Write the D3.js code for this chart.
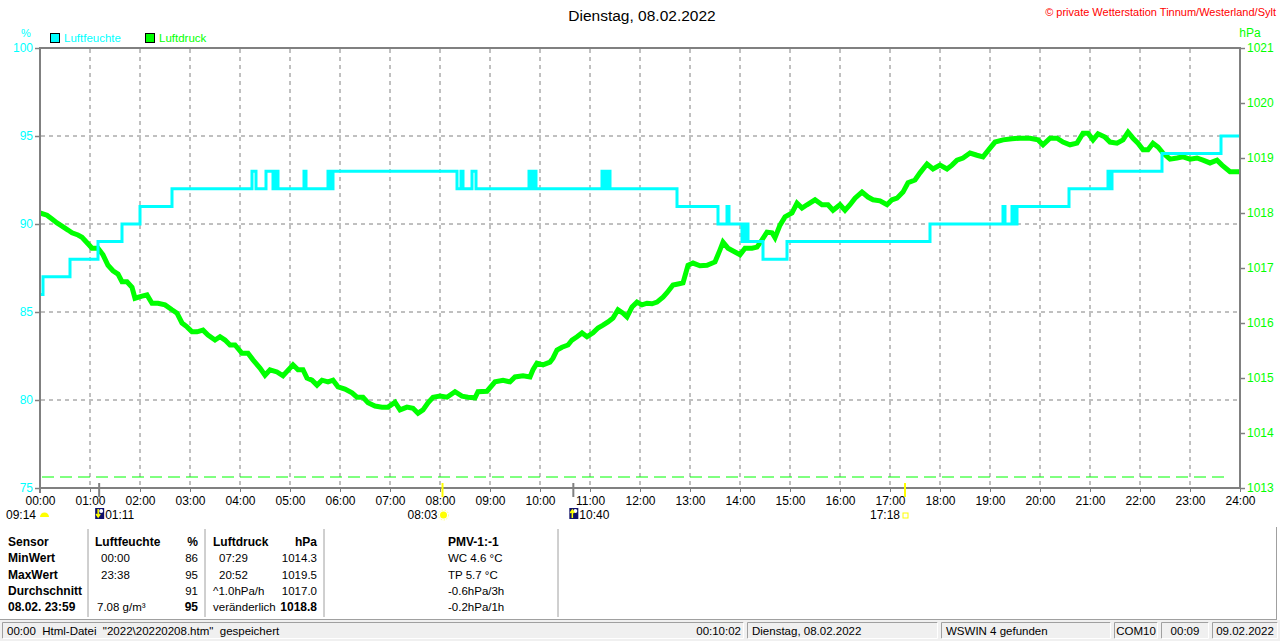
<!DOCTYPE html>
<html><head><meta charset="utf-8">
<script src="https://cdn.jsdelivr.net/npm/d3@7"></script>
<style>
html,body{margin:0;padding:0;background:#fff;}
svg{display:block;font-family:"Liberation Sans",Arial,sans-serif;}
text{white-space:pre;}
</style></head>
<body>
<svg id="c" width="1280" height="641"></svg>
<script>
// ---------- DATA ----------
const title = "Dienstag, 08.02.2022";
const copyright = "© private Wetterstation Tinnum/Westerland/Sylt";
const hourTicks = d3.range(0, 25);
const humTicks = [75, 80, 85, 90, 95, 100];
const presTicks = [1013, 1014, 1015, 1016, 1017, 1018, 1019, 1020, 1021];
const refPressure = 1013.2;

// Luftfeuchte (%), step series: time in hours, value
const humTimes = [0.00,0.06,0.60,1.16,1.64,2.00,2.64,4.24,4.32,4.52,4.66,4.72,4.76,5.28,5.32,5.76,5.82,5.86,
  8.34,8.42,8.46,8.64,8.72,9.78,9.82,9.86,9.92,11.24,11.30,11.34,11.40,12.74,13.56,13.74,13.78,
  14.04,14.08,14.10,14.14,14.16,14.46,14.94,17.80,19.26,19.30,19.44,19.48,19.54,20.58,21.36,21.40,21.44,22.44,23.62,24.00];
const humValues = [86,87,88,89,90,91,92,93,92,93,92,93,92,93,92,93,92,93,
  92,93,92,93,92,93,92,93,92,93,92,93,92,91,90,91,90,
  89,90,89,90,89,88,89,90,91,90,91,90,91,92,93,92,93,94,95,95];

// Luftdruck (hPa)
const presTimes = [0.00,0.14,0.24,0.34,0.44,0.56,0.64,0.76,0.84,0.96,1.04,1.16,1.26,1.36,1.46,1.56,1.64,1.74,1.84,1.90,
  2.04,2.14,2.24,2.36,2.50,2.64,2.74,2.84,2.94,3.04,3.14,3.26,3.36,3.50,3.60,3.70,3.80,3.90,
  4.04,4.16,4.26,4.40,4.50,4.60,4.74,4.86,5.00,5.06,5.16,5.26,5.34,5.44,5.54,5.64,5.76,5.86,5.96,
  6.10,6.24,6.34,6.46,6.56,6.70,6.84,6.96,7.10,7.20,7.34,7.46,7.56,7.66,7.76,7.86,
  8.00,8.14,8.30,8.44,8.56,8.70,8.76,8.94,9.10,9.26,9.40,9.50,9.66,9.80,9.86,9.94,
  10.06,10.20,10.26,10.34,10.44,10.56,10.64,10.74,10.84,10.94,11.06,11.16,11.26,11.36,11.46,11.56,11.66,11.74,11.84,11.94,
  12.04,12.14,12.24,12.34,12.46,12.54,12.66,12.76,12.86,12.96,13.06,13.20,13.34,13.50,13.60,13.66,13.76,13.90,
  14.00,14.10,14.24,14.34,14.44,14.54,14.64,14.70,14.80,14.90,15.04,15.14,15.24,15.34,15.50,15.64,15.76,15.86,
  16.00,16.10,16.20,16.30,16.44,16.56,16.66,16.80,16.94,17.04,17.14,17.26,17.36,17.50,17.60,17.74,17.86,
  18.00,18.14,18.24,18.34,18.46,18.60,18.74,18.86,19.00,19.10,19.26,19.44,19.60,19.80,19.96,
  20.06,20.20,20.34,20.46,20.60,20.74,20.86,20.96,21.06,21.16,21.30,21.40,21.54,21.66,21.76,21.86,21.96,
  22.06,22.16,22.26,22.36,22.46,22.60,22.74,22.86,23.00,23.14,23.26,23.40,23.54,23.64,23.80,23.94,24.00];
const presValues = [1018.00,1017.96,1017.89,1017.82,1017.76,1017.69,1017.64,1017.60,1017.56,1017.44,1017.36,1017.36,1017.24,1017.05,1016.95,1016.89,1016.75,1016.75,1016.65,1016.45,
  1016.49,1016.51,1016.36,1016.36,1016.33,1016.24,1016.18,1016.00,1015.93,1015.84,1015.84,1015.87,1015.78,1015.69,1015.75,1015.69,1015.60,1015.60,
  1015.45,1015.45,1015.33,1015.18,1015.05,1015.15,1015.11,1015.04,1015.18,1015.24,1015.15,1015.15,1015.00,1014.96,1014.87,1014.96,1014.93,1014.96,1014.84,
  1014.80,1014.73,1014.65,1014.65,1014.55,1014.49,1014.47,1014.47,1014.56,1014.42,1014.47,1014.45,1014.36,1014.42,1014.55,1014.65,
  1014.67,1014.65,1014.75,1014.67,1014.65,1014.64,1014.75,1014.76,1014.93,1014.96,1014.93,1015.02,1015.04,1015.02,1015.15,1015.27,
  1015.24,1015.29,1015.36,1015.51,1015.56,1015.60,1015.69,1015.75,1015.82,1015.75,1015.82,1015.91,1015.96,1016.02,1016.09,1016.24,1016.18,1016.11,1016.29,1016.38,
  1016.33,1016.36,1016.35,1016.38,1016.47,1016.55,1016.69,1016.71,1016.73,1017.05,1017.09,1017.04,1017.05,1017.11,1017.33,1017.47,1017.36,1017.29,
  1017.24,1017.36,1017.36,1017.38,1017.51,1017.65,1017.64,1017.55,1017.78,1017.93,1018.00,1018.18,1018.09,1018.15,1018.24,1018.15,1018.15,1018.05,
  1018.15,1018.05,1018.15,1018.27,1018.38,1018.29,1018.24,1018.22,1018.15,1018.24,1018.27,1018.38,1018.55,1018.60,1018.73,1018.89,1018.80,
  1018.87,1018.80,1018.87,1018.96,1019.00,1019.09,1019.05,1019.02,1019.18,1019.29,1019.33,1019.35,1019.36,1019.36,1019.33,
  1019.24,1019.36,1019.36,1019.29,1019.24,1019.27,1019.45,1019.45,1019.33,1019.44,1019.38,1019.29,1019.27,1019.33,1019.47,1019.36,1019.27,
  1019.15,1019.15,1019.27,1019.20,1019.09,1018.98,1019.00,1019.02,1018.98,1019.00,1018.96,1018.91,1018.96,1018.87,1018.75,1018.75,1018.75];

// Sun / moon events (hours, label)
const sunEvents = [{t: 8 + 3/60, label: "08:03", kind: "sunrise"}, {t: 17 + 18/60, label: "17:18", kind: "sunset"}];
const moonEvents = [{t: 1 + 11/60, label: "01:11", kind: "moonset"}, {t: 10 + 40/60, label: "10:40", kind: "moonrise"}];
const prevEvent = {label: "09:14"};

// Table
const tableRows = [
  ["Sensor", "Luftfeuchte", "%", "Luftdruck", "hPa", "PMV-1:-1"],
  ["MinWert", "00:00", "86", "07:29", "1014.3", "WC 4.6 °C"],
  ["MaxWert", "23:38", "95", "20:52", "1019.5", "TP 5.7 °C"],
  ["Durchschnitt", "", "91", "^1.0hPa/h", "1017.0", "-0.6hPa/3h"],
  ["08.02. 23:59", "7.08 g/m³", "95", "veränderlich", "1018.8", "-0.2hPa/1h"]
];
const statusPanels = ["00:00  Html-Datei  \"2022\\20220208.htm\"  gespeichert", "Dienstag, 08.02.2022", "WSWIN 4 gefunden", "COM10", "00:09", "09.02.2022"];
const statusRightText = "00:10:02";

// ---------- DRAW ----------
const svg = d3.select("#c");
const CYAN = "#00ffff", GREEN = "#00ff00", GRAY = "#808080";
const x = d3.scaleLinear().domain([0, 24]).range([40, 1240]);
const yH = d3.scaleLinear().domain([75, 100]).range([488, 48]);
const yP = d3.scaleLinear().domain([1013, 1021]).range([488, 48]);

// Title and copyright
svg.append("text").attr("x", 642).attr("y", 21).attr("text-anchor", "middle")
  .attr("font-size", 15.5).attr("fill", "#000").text(title);
svg.append("text").attr("x", 1276).attr("y", 16).attr("text-anchor", "end")
  .attr("font-size", 11).attr("fill", "#ff0000").text(copyright);

// Units
svg.append("text").attr("x", 26).attr("y", 37).attr("text-anchor", "middle").attr("font-size", 11).attr("fill", CYAN).text("%");
svg.append("text").attr("x", 1250).attr("y", 37).attr("text-anchor", "middle").attr("font-size", 12).attr("fill", GREEN).text("hPa");

// Legend
const legend = [{name: "Luftfeuchte", color: CYAN, x: 50}, {name: "Luftdruck", color: GREEN, x: 145}];
legend.forEach(l => {
  svg.append("rect").attr("x", l.x + 0.5).attr("y", 33.5).attr("width", 9).attr("height", 9)
    .attr("fill", l.color).attr("stroke", "#000").attr("stroke-width", 1);
  svg.append("text").attr("x", l.x + 14).attr("y", 42).attr("font-size", 11.5).attr("fill", l.color).text(l.name);
});

// Grid
const grid = svg.append("g");
grid.selectAll("line.v").data(hourTicks.slice(1, 24)).join("line")
  .attr("x1", d => x(d)).attr("x2", d => x(d)).attr("y1", 49).attr("y2", 488)
  .attr("stroke", GRAY).attr("stroke-width", 1).attr("stroke-dasharray", "4,4");
grid.selectAll("line.h").data(humTicks.slice(1, 5)).join("line")
  .attr("x1", 41).attr("x2", 1240).attr("y1", d => yH(d)).attr("y2", d => yH(d))
  .attr("stroke", GRAY).attr("stroke-width", 1).attr("stroke-dasharray", "4,4");

// reference pressure dashed line
svg.append("line").attr("x1", 42).attr("x2", 1230).attr("y1", yP(refPressure)).attr("y2", yP(refPressure))
  .attr("stroke", GREEN).attr("stroke-width", 1).attr("stroke-dasharray", "12,6");

// Pressure line
const presData = presTimes.map((t, i) => [t, presValues[i]]);
svg.append("path").datum(presData)
  .attr("d", d3.line().x(d => x(d[0])).y(d => yP(d[1])))
  .attr("fill", "none").attr("stroke", GREEN).attr("stroke-width", 5).attr("stroke-linejoin", "miter");

// Humidity line
const humData = humTimes.map((t, i) => [t, humValues[i]]);
svg.append("path").datum(humData)
  .attr("d", d3.line().curve(d3.curveStepAfter).x(d => x(d[0])).y(d => yH(d[1])))
  .attr("fill", "none").attr("stroke", CYAN).attr("stroke-width", 3);

// Frame
const frame = svg.append("g").attr("stroke", GRAY).attr("stroke-width", 2);
frame.append("line").attr("x1", 40).attr("x2", 1241).attr("y1", 48).attr("y2", 48);
frame.append("line").attr("x1", 40).attr("x2", 1241).attr("y1", 488).attr("y2", 488);
frame.append("line").attr("x1", 40).attr("x2", 40).attr("y1", 47).attr("y2", 493);
frame.append("line").attr("x1", 1240).attr("x2", 1240).attr("y1", 47).attr("y2", 489);

// Left axis (humidity)
const axL = svg.append("g").attr("transform", "translate(40,0)")
  .call(d3.axisLeft(yH).tickValues(humTicks).tickSize(5).tickSizeOuter(0).tickPadding(2));
axL.select(".domain").remove();
axL.selectAll("line").attr("stroke", GRAY).attr("stroke-width", 1.5);
axL.selectAll("text").attr("fill", CYAN).attr("font-size", 12).attr("font-family", "Liberation Sans, Arial, sans-serif");

// Right axis (pressure)
const axR = svg.append("g").attr("transform", "translate(1240,0)")
  .call(d3.axisRight(yP).tickValues(presTicks).tickSize(5).tickSizeOuter(0).tickPadding(2).tickFormat(d3.format("d")));
axR.select(".domain").remove();
axR.selectAll("line").attr("stroke", GRAY).attr("stroke-width", 1.5);
axR.selectAll("text").attr("fill", GREEN).attr("font-size", 12).attr("font-family", "Liberation Sans, Arial, sans-serif");

// Bottom axis (time)
const axB = svg.append("g").attr("transform", "translate(0,488)")
  .call(d3.axisBottom(x).tickValues(hourTicks).tickSize(4).tickSizeOuter(0).tickPadding(4)
    .tickFormat(d => String(d).padStart(2, "0") + ":00"));
axB.select(".domain").remove();
axB.selectAll("line").attr("stroke", GRAY).attr("stroke-width", 1);
axB.selectAll("text").attr("fill", "#000").attr("font-size", 12).attr("font-family", "Liberation Sans, Arial, sans-serif");

// Sun events
sunEvents.forEach(e => {
  svg.append("line").attr("x1", x(e.t)).attr("x2", x(e.t)).attr("y1", 483).attr("y2", 497)
    .attr("stroke", "#ffff00").attr("stroke-width", 2);
  svg.append("text").attr("x", x(e.t) - 5).attr("y", 519).attr("text-anchor", "end").attr("font-size", 12).attr("fill", "#000").text(e.label);
  if (e.kind === "sunrise") {
    svg.append("circle").attr("cx", x(e.t) + 1).attr("cy", 515).attr("r", 3.5).attr("fill", "#ffff00");
    svg.append("circle").attr("cx", x(e.t) + 1).attr("cy", 515).attr("r", 5).attr("fill", "none").attr("stroke", "#ffff80").attr("stroke-width", 1).attr("stroke-dasharray", "1.5,1.5");
  } else {
    svg.append("rect").attr("x", x(e.t) - 2).attr("y", 513).attr("width", 5).attr("height", 5)
      .attr("fill", "none").attr("stroke", "#ffff00").attr("stroke-width", 1);
  }
});
// Moon events
moonEvents.forEach(e => {
  svg.append("line").attr("x1", x(e.t)).attr("x2", x(e.t)).attr("y1", 483).attr("y2", 497)
    .attr("stroke", GRAY).attr("stroke-width", 2);
  const ix = x(e.t) - 4;
  svg.append("rect").attr("x", ix).attr("y", 508).attr("width", 9).attr("height", 11).attr("fill", "#10106a");
  svg.append("circle").attr("cx", ix + 6).attr("cy", 511).attr("r", 2).attr("fill", "#ffffff");
  const down = e.kind === "moonset";
  svg.append("path").attr("d", down
      ? `M${ix + 3},${509} L${ix + 3},${516} M${ix + 1},${514} L${ix + 3},${517} L${ix + 5},${514}`
      : `M${ix + 3},${518} L${ix + 3},${511} M${ix + 1},${513} L${ix + 3},${510} L${ix + 5},${513}`)
    .attr("stroke", "#ffff00").attr("stroke-width", 1.5).attr("fill", "none");
  svg.append("text").attr("x", ix + 10).attr("y", 519).attr("font-size", 12).attr("fill", "#000").text(e.label);
});
// previous day's moon event marker at start
svg.append("text").attr("x", 36).attr("y", 519).attr("text-anchor", "end").attr("font-size", 12).attr("fill", "#000").text(prevEvent.label);
svg.append("path").attr("d", "M40,517 A4.5,4.5 0 0 1 49,517 Z").attr("fill", "#ffff00");

// Table
const tbl = svg.append("g").attr("fill", "#000");
const sepX = [88, 205, 324, 558];
sepX.forEach(sx => tbl.append("line").attr("x1", sx).attr("x2", sx).attr("y1", 529).attr("y2", 617)
  .attr("stroke", "#a0a0a0").attr("stroke-width", 1));
tbl.append("line").attr("x1", 1276.5).attr("x2", 1276.5).attr("y1", 527).attr("y2", 619).attr("stroke", "#a0a0a0");
tbl.append("line").attr("x1", 0).attr("x2", 1277).attr("y1", 619.5).attr("y2", 619.5).attr("stroke", "#a0a0a0");
const colX = [8, 101, 198, 213, 317, 448];
const colAnchor = ["start", "start", "end", "start", "end", "start"];
const rowY = [546, 562, 579, 595, 611];
tableRows.forEach((row, r) => {
  row.forEach((cell, c) => {
    let bold = r === 0 || c === 0 || (r === 4 && (c === 2 || c === 4));
    let cx = colX[c];
    if (r === 0 && c === 1) cx = 95;
    if (r === 4 && c === 1) cx = 97;
    if (c === 3 && (r === 1 || r === 2)) cx = 219;
    tbl.append("text").attr("x", cx).attr("y", rowY[r]).attr("text-anchor", colAnchor[c])
      .attr("font-size", bold ? 12 : 11.5)
      .attr("font-weight", bold ? "bold" : "normal").text(cell);
  });
});

// Status bar
svg.append("rect").attr("x", 0).attr("y", 620).attr("width", 1280).attr("height", 21).attr("fill", "#f0f0f0");
const panelX = [[2, 744], [747, 938], [941, 1111], [1114, 1158], [1161, 1209], [1212, 1278]];
panelX.forEach((p, i) => {
  const g = svg.append("g");
  g.append("path").attr("d", `M${p[0] + 0.5},${638.5} L${p[0] + 0.5},${622.5} L${p[1] - 0.5},${622.5}`).attr("stroke", "#a0a0a0").attr("fill", "none");
  g.append("path").attr("d", `M${p[1] - 0.5},${622.5} L${p[1] - 0.5},${638.5} L${p[0] + 0.5},${638.5}`).attr("stroke", "#ffffff").attr("fill", "none");
  const centered = i >= 3;
  g.append("text").attr("x", centered ? (p[0] + p[1]) / 2 : p[0] + 5).attr("y", 635)
    .attr("text-anchor", centered ? "middle" : "start").attr("font-size", 11.5).attr("fill", "#000").text(statusPanels[i]);
});
svg.append("text").attr("x", 741).attr("y", 635).attr("text-anchor", "end").attr("font-size", 11.5).attr("fill", "#000").text(statusRightText);
</script>
</body></html>
